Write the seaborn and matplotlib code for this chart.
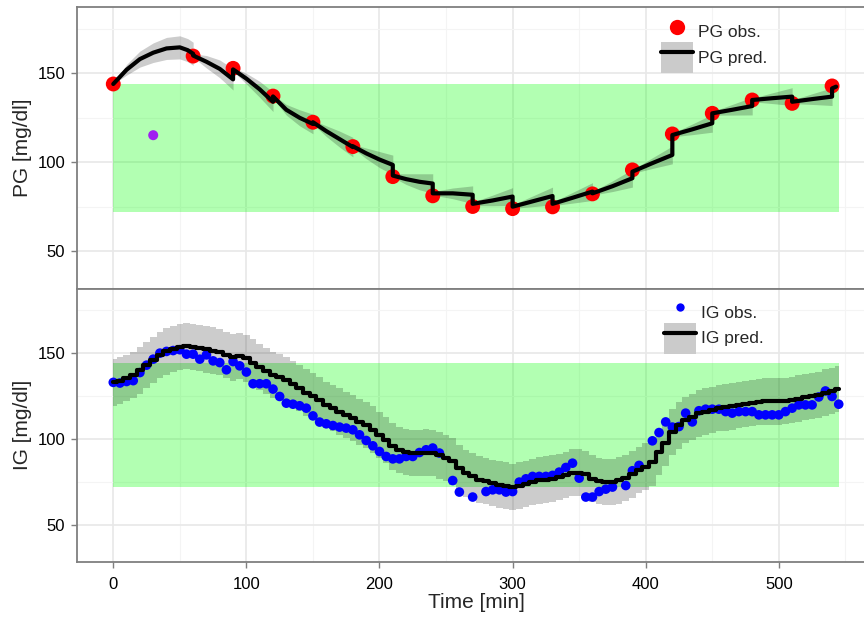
import matplotlib
matplotlib.use("Agg")
import matplotlib.pyplot as plt
from matplotlib.lines import Line2D
from matplotlib.patches import Patch
from matplotlib.legend_handler import HandlerTuple
import numpy as np
import pandas as pd
import seaborn as sns

# ---------------- data ----------------
# plasma glucose samples [mg/dl]
PG_OBS_T = [0, 60, 90, 120, 150, 180, 210, 240, 270, 300, 330, 360, 390, 420, 450, 480, 510, 540]
PG_OBS_V = [144, 159.7, 152.8, 137.2, 122.5, 108.8, 91.9, 81.1, 75.1, 73.9, 74.9, 82.2, 95.7,
            115.9, 127.5, 135, 133.1, 142.9]
# sample excluded from the estimation
PG_EXCL_T = [30]
PG_EXCL_V = [115.2]

# model prediction of plasma glucose (jumps at every sample) and its spread
PG_PRED_T = [0, 10, 20, 30, 40, 50, 56, 60, 60, 70, 80, 90, 90, 100, 110, 120, 120, 130, 140,
             150, 150, 160, 170, 180, 180, 190, 200, 210, 210, 220, 230, 240, 240, 255, 270,
             270, 285, 300, 300, 315, 330, 330, 345, 360, 360, 375, 390, 390, 405, 420, 420,
             435, 450, 450, 465, 480, 480, 495, 510, 510, 525, 540, 540, 543]
PG_PRED_V = [144, 152, 158, 161.6, 164, 164.6, 163, 161, 160, 156.5, 152.5, 146.6, 152.2, 147,
             141, 134, 137, 129.5, 125, 121.5, 122.5, 117.5, 113, 108.5, 109, 105, 101.5, 98.5,
             92.5, 90.5, 89, 88, 82.5, 82.5, 81.7, 76.6, 78.5, 80.7, 75, 78, 81, 76.6, 80, 83.5,
             82.5, 86.5, 91, 94.7, 99.5, 104.1, 115.3, 118.5, 121.9, 127.5, 129.5, 131.6, 135,
             136, 136.9, 134, 135.5, 136.9, 141.5, 142.5]
PG_PRED_SD = [0, 3, 4.5, 5.5, 6.2, 6.5, 6.5, 6.5, 1, 3.5, 5, 6, 1, 3, 4.5, 5.5, 1, 3, 4.5,
              5.5, 1, 3, 4.5, 5.5, 1, 3, 4.5, 5.5, 1, 3, 4.5, 5.5, 1, 3, 5, 1, 3, 5, 1, 3, 5,
              1, 3, 5, 1, 3, 5, 1, 3, 5, 1, 3, 5, 1, 3, 5, 1, 3, 5, 1, 3, 5, 1, 1]

# interstitial glucose (CGM) readings [mg/dl]
IG_OBS_T = [0, 5, 10, 15, 20, 25, 30, 35, 40, 45, 50, 55, 60, 65, 70, 75, 80, 85, 90, 95,
            100, 105, 110, 115, 120, 125, 130, 135, 140, 145, 150, 155, 160, 165, 170, 175,
            180, 185, 190, 195, 200, 205, 210, 215, 220, 225, 230, 235, 240, 245, 255, 260,
            270, 280, 285, 290, 295, 300, 305, 310, 315, 320, 325, 330, 335, 340, 345, 350,
            355, 360, 365, 370, 375, 385, 390, 395, 405, 410, 415, 420, 425, 430, 435, 440,
            445, 450, 455, 460, 465, 470, 475, 480, 485, 490, 495, 500, 505, 510, 515, 520,
            525, 530, 535, 540, 545]
IG_OBS_V = [133, 132.6, 133.5, 134, 138.7, 143, 146.5, 150, 151, 151.5, 152, 149.4, 149.4,
            146.5, 149, 145.5, 144.5, 140.3, 145.1, 142.6, 139, 132.2, 132.2, 132.2, 129.1,
            124.8, 120.9, 120.3, 119.4, 118, 113.5, 109.9, 108.9, 107.9, 107, 106.4, 105.4,
            102.5, 99.2, 96.1, 92.8, 89.9, 88.5, 88.5, 89.9, 89.9, 92.2, 93.8, 94.8, 91.9,
            75.9, 69.2, 66.3, 69.5, 70.5, 70.5, 69.2, 69.5, 75, 76.9, 78.3, 78.3, 78.3, 78.9,
            80.8, 83.5, 86, 77.3, 66.3, 66.3, 69.5, 70.9, 72.1, 73, 81.6, 84.7, 99, 103.8,
            110, 107, 107.3, 115.1, 110, 116.5, 117.4, 117.4, 117.4, 116, 115.1, 116, 116,
            116, 114.1, 114.1, 114.1, 114.1, 116, 118, 119.9, 119.9, 119.9, 124.5, 128,
            124.8, 120.3]

# model prediction of interstitial glucose on the 5-minute grid
IG_PRED_T = [0, 5, 10, 15, 20, 25, 30, 35, 40, 45, 50, 55, 60, 65, 70, 75, 80, 85, 90, 95,
             100, 105, 110, 115, 120, 125, 130, 135, 140, 145, 150, 155, 160, 165, 170, 175,
             180, 185, 190, 195, 200, 205, 210, 215, 220, 225, 230, 235, 240, 245, 250, 255,
             260, 265, 270, 275, 280, 285, 290, 295, 300, 305, 310, 315, 320, 325, 330, 335,
             340, 345, 350, 355, 360, 365, 370, 375, 380, 385, 390, 395, 400, 405, 410, 415,
             420, 425, 430, 435, 440, 445, 450, 455, 460, 465, 470, 475, 480, 485, 490, 495,
             500, 505, 510, 515, 520, 525, 530, 535, 540, 545]
IG_PRED_V = [133, 134, 135.5, 137.4, 140, 143.2, 146, 149, 151, 152.3,
             153.5, 154.2, 153.5, 152.9, 152.2, 151.5, 150.5, 149, 147.5, 148.4,
             147, 144.5, 141.9, 139.5, 137.4, 136, 134.5, 132, 129.6, 127,
             124.8, 122.5, 120, 118, 116, 114, 112.2, 110, 108.3, 105.5,
             102.5, 99.5, 95.7, 93.5, 92.5, 92, 91.9, 92.2, 91.9, 90.5,
             89, 87, 83, 80, 78.3, 76.5, 75.5, 74.5, 73.5, 73,
             72, 73, 74, 75, 76, 76.5, 77, 78, 79, 80.5,
             80.5, 79.5, 77, 75.5, 75, 75, 76, 77.3, 79.5, 82,
             84, 86.5, 92.5, 98, 104, 108, 111, 113, 115, 116,
             117, 118, 118.5, 119, 120, 120.5, 121, 121.5, 121.9, 121.9,
             121.9, 122.3, 122.8, 123.5, 124.4, 125, 125.8, 127, 128, 129.1]
IG_PRED_SD = 13.5

# euglycaemic target range [mg/dl] over the observation window
TARGET_T = [0, 545]
TARGET_LO = 72
TARGET_HI = 144

# ---------------- frames ----------------
pg_obs = pd.DataFrame({"t": PG_OBS_T, "v": PG_OBS_V})
pg_excl = pd.DataFrame({"t": PG_EXCL_T, "v": PG_EXCL_V})
pg_pred = pd.DataFrame({"t": PG_PRED_T, "v": PG_PRED_V, "sd": PG_PRED_SD})
ig_obs = pd.DataFrame({"t": IG_OBS_T, "v": IG_OBS_V})
ig_pred = pd.DataFrame({"t": IG_PRED_T, "v": IG_PRED_V})

# ---------------- style ----------------
sns.set_theme(style="white")
plt.rcParams["font.family"] = ["Liberation Sans", "DejaVu Sans"]

W, H = 864, 617
fig = plt.figure(figsize=(W / 100, H / 100), dpi=100)
ax1 = fig.add_axes([77 / W, 1 - 289 / H, 798 / W, 282 / H])
ax2 = fig.add_axes([77 / W, 1 - 561.7 / H, 798 / W, 272.7 / H])

GREEN = (0.0, 1.0, 0.0)
BORDER = "#7f7f7f"


def style_axes(ax, show_x):
    ax.set_xlim(-27.25, 572.25)
    ax.set_ylim(28.7, 187.3)
    ax.set_xticks([0, 100, 200, 300, 400, 500])
    ax.set_xticks([50, 150, 250, 350, 450, 550], minor=True)
    ax.set_yticks([50, 100, 150])
    ax.set_yticks([75, 125, 175], minor=True)
    ax.grid(which="major", color="#e8e8e8", lw=1.2)
    ax.grid(which="minor", color="#f4f4f4", lw=0.8)
    ax.set_axisbelow(True)
    for s in ax.spines.values():
        s.set_color(BORDER)
        s.set_linewidth(1.3)
        s.set_visible(True)
    ax.tick_params(which="major", length=4, width=1.0, color=BORDER,
                   labelsize=12, labelcolor="black", left=True, bottom=show_x)
    ax.tick_params(axis="x", which="major", pad=7)
    ax.tick_params(axis="y", which="major", pad=4.5)
    ax.tick_params(which="minor", length=0)
    if not show_x:
        ax.tick_params(axis="x", labelbottom=False, bottom=False)


def target_band(ax):
    ax.fill_between(TARGET_T, [TARGET_LO] * 2, [TARGET_HI] * 2, color=GREEN,
                    alpha=0.3, lw=0, zorder=1)


# ---------------- plasma glucose panel ----------------
style_axes(ax1, show_x=False)
target_band(ax1)
ax1.fill_between(pg_pred["t"], pg_pred["v"] - pg_pred["sd"], pg_pred["v"] + pg_pred["sd"],
                 color="black", alpha=0.2, lw=0, zorder=2)
sns.scatterplot(data=pg_obs, x="t", y="v", ax=ax1, color="red", s=115,
                edgecolor="none", legend=False, zorder=3)
sns.scatterplot(data=pg_excl, x="t", y="v", ax=ax1, color="#a020f0", s=52,
                edgecolor="none", legend=False, zorder=3)
sns.lineplot(data=pg_pred, x="t", y="v", ax=ax1, color="black", lw=3,
             estimator=None, sort=False, legend=False, zorder=4)
ax1.set_xlabel("")
ax1.set_ylabel("PG [mg/dl]", fontsize=15)
ax1.yaxis.set_label_coords(-0.0558, 0.5)

# ---------------- interstitial glucose panel ----------------
style_axes(ax2, show_x=True)
target_band(ax2)
ax2.fill_between(ig_pred["t"], ig_pred["v"] - IG_PRED_SD, ig_pred["v"] + IG_PRED_SD,
                 step="mid", color="black", alpha=0.2, lw=0, zorder=2)
sns.scatterplot(data=ig_obs, x="t", y="v", ax=ax2, color="blue", s=48,
                edgecolor="none", legend=False, zorder=3)
sns.lineplot(data=ig_pred, x="t", y="v", ax=ax2, color="black", lw=3,
             estimator=None, sort=False, legend=False, drawstyle="steps-mid", zorder=4)
ax2.set_xlabel("Time [min]", fontsize=15)
ax2.xaxis.set_label_coords(0.5, -0.113)
ax2.set_ylabel("IG [mg/dl]", fontsize=15)
ax2.yaxis.set_label_coords(-0.0558, 0.5)


# ---------------- legends ----------------
def add_legend(ax, obs_color, obs_ms, labels, anchor):
    h_obs = Line2D([], [], ls="none", marker="o", ms=obs_ms, mfc=obs_color, mec="none")
    h_pred = (Patch(facecolor="#cbcbcb", edgecolor="none"),
              Line2D([], [], color="black", lw=3))
    ax.legend([h_obs, h_pred], labels,
              handler_map={tuple: HandlerTuple(ndivide=1, pad=0)},
              loc="upper left", bbox_to_anchor=anchor, bbox_transform=fig.transFigure,
              frameon=False, fontsize=12.5, handlelength=1.84, handleheight=2.36,
              handletextpad=0.25, labelspacing=-0.29, borderpad=0, borderaxespad=0)


add_legend(ax1, "red", 11, ["PG obs.", "PG pred."], (661.3 / W, 1 - 16.2 / H))
add_legend(ax2, "blue", 6.0, ["IG obs.", "IG pred."], (664.3 / W, 1 - 296.8 / H))

fig.savefig("out.png", dpi=100)
